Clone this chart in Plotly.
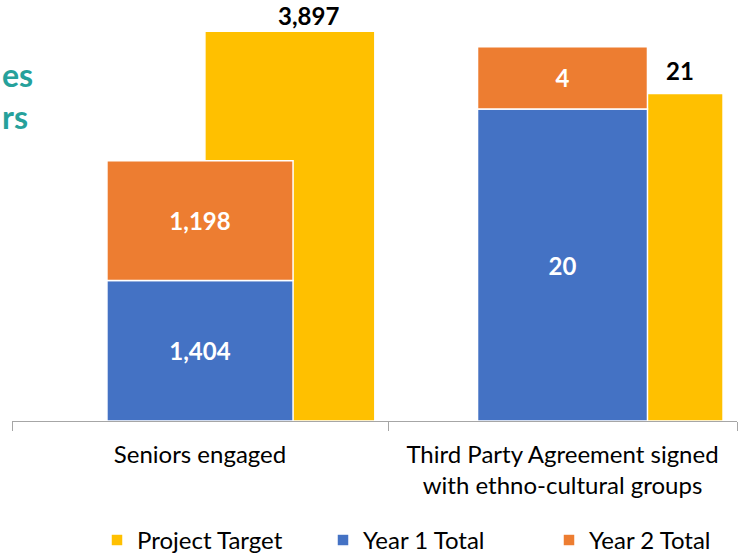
import plotly.graph_objects as go

categories = ["Seniors engaged", "Third Party Agreement signed<br>with ethno-cultural groups"]
project_target = [3897, 21]
year1_total = [1404, 20]
year2_total = [1198, 4]

YELLOW = "#FFC000"
BLUE = "#4472C4"
ORANGE = "#ED7D31"
TEAL = "#26A19B"
FONT = "Lato"
FS = 24

fig = go.Figure()

xa = ["x", "x2"]
ya = ["y", "y2"]
# bar geometry per group (category units)
stack_w = [0.495, 0.487]
target_off = [0.013, -0.027]
target_w = [0.452, 0.487]
label_shift = [(108, -1), (117, 6)]

annotations = []
for i, cat in enumerate(categories):
    show = i == 0
    fig.add_trace(go.Bar(
        x=[cat], y=[project_target[i]], name="Project Target",
        marker=dict(color=YELLOW, line=dict(color="white", width=1.5)),
        offset=target_off[i], width=target_w[i],
        xaxis=xa[i], yaxis=ya[i], showlegend=show, legendgroup="t",
    ))
    fig.add_trace(go.Bar(
        x=[cat], y=[year1_total[i]], name="Year 1 Total",
        marker=dict(color=BLUE, line=dict(color="white", width=1.5)),
        width=stack_w[i],
        texttemplate="%{y:,}", textposition="inside", insidetextanchor="middle",
        constraintext="none",
        textfont=dict(color="white", size=FS, family=FONT, weight="bold"),
        xaxis=xa[i], yaxis=ya[i], showlegend=show, legendgroup="y1",
    ))
    fig.add_trace(go.Bar(
        x=[cat], y=[year2_total[i]], base=[year1_total[i]], name="Year 2 Total",
        marker=dict(color=ORANGE, line=dict(color="white", width=1.5)),
        width=stack_w[i],
        texttemplate="%{y:,}", textposition="inside", insidetextanchor="middle",
        constraintext="none",
        textfont=dict(color="white", size=FS, family=FONT, weight="bold"),
        xaxis=xa[i], yaxis=ya[i], showlegend=show, legendgroup="y2",
    ))
    annotations.append(dict(
        text=f"{project_target[i]:,}", x=cat, y=project_target[i],
        xref=xa[i], yref=ya[i], xanchor="center", yanchor="bottom",
        xshift=label_shift[i][0], yshift=label_shift[i][1], showarrow=False,
        font=dict(color="black", size=FS, family=FONT, weight="bold"),
    ))

annotations += [
    dict(text="es", xref="paper", yref="paper", x=0, y=1 - 74 / 421,
         xanchor="left", yanchor="middle", showarrow=False, xshift=-12,
         font=dict(size=32, family=FONT, color=TEAL, weight="bold")),
    dict(text="rs", xref="paper", yref="paper", x=0, y=1 - 116 / 421,
         xanchor="left", yanchor="middle", showarrow=False, xshift=-12,
         font=dict(size=32, family=FONT, color=TEAL, weight="bold")),
]

axis_common = dict(
    type="category", range=[-0.5, 0.5], tickson="boundaries", ticks="outside",
    ticklen=9, tickcolor="#A6A6A6", showline=True, linecolor="#A6A6A6", linewidth=1,
    showgrid=False, zeroline=False, tickfont=dict(size=FS, family=FONT, color="black"),
    ticklabelstandoff=12, fixedrange=True,
)
split = (388 - 12) / 725

fig.update_layout(
    width=753, height=555,
    margin=dict(l=12, r=16, t=0, b=134, autoexpand=False),
    paper_bgcolor="white", plot_bgcolor="white",
    barmode="overlay",
    xaxis=dict(domain=[0, split], anchor="y", **axis_common),
    xaxis2=dict(domain=[split, 1], anchor="y2", **axis_common),
    yaxis=dict(range=[0, 4210], visible=False, fixedrange=True),
    yaxis2=dict(range=[0, 26.99], visible=False, anchor="x2", fixedrange=True),
    font=dict(family=FONT, color="black"),
    legend=dict(
        orientation="h", xref="container", yref="container",
        x=97 / 753, y=(555 - 518) / 555, xanchor="left", yanchor="top",
        entrywidth=181, font=dict(size=FS, family=FONT, color="black"),
        traceorder="normal",
    ),
    showlegend=True,
    annotations=annotations,
)

fig.write_html(
    "out.html",
    config={"displayModeBar": False},
    post_script="document.body.style.margin='0';document.body.style.overflow='hidden';",
)
